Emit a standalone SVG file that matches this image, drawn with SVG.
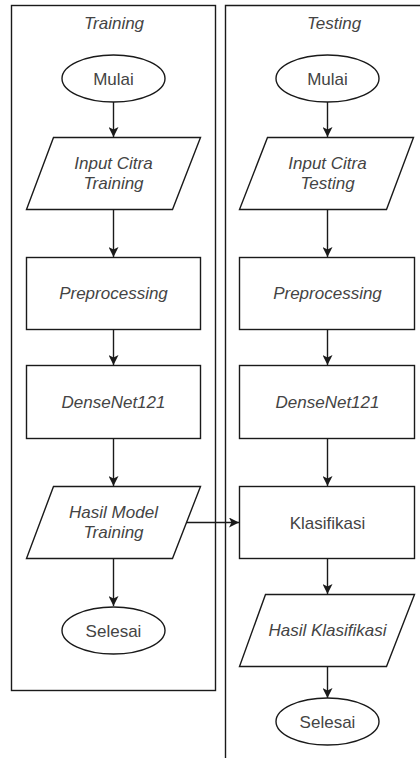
<svg xmlns="http://www.w3.org/2000/svg" width="420" height="758" viewBox="0 0 420 758">
<style>
.sh{fill:#fff;stroke:#1a1a1a;stroke-width:1.4}
.t{font-family:"Liberation Sans",Arial,sans-serif;font-size:17px;fill:#444;text-anchor:middle}
.i{font-style:italic}
.c{fill:none;stroke:#1a1a1a;stroke-width:1.4}
</style>
<defs>
<marker id="ah" viewBox="0 0 10 10" refX="10" refY="5" markerWidth="10" markerHeight="10" markerUnits="userSpaceOnUse" orient="auto">
<path d="M0,0 L10,5 L0,10 L2.5,5 Z" fill="#1a1a1a"/>
</marker>
</defs>
<rect width="420" height="758" fill="#fff"/>
<g id="lane-training">
<rect x="11.5" y="5.5" width="204" height="685" fill="none" stroke="#1a1a1a" stroke-width="1.4"/>
<text class="t i" x="114" y="29">Training</text>
</g>
<g id="lane-testing">
<path d="M420,5.5 H225.5 V758" fill="none" stroke="#1a1a1a" stroke-width="1.4"/>
<text class="t i" x="334" y="29">Testing</text>
</g>
<g id="connectors">
<path class="c" d="M113.5,102 V137" marker-end="url(#ah)"/>
<path class="c" d="M113.5,209 V257" marker-end="url(#ah)"/>
<path class="c" d="M113.5,329 V365" marker-end="url(#ah)"/>
<path class="c" d="M113.5,438 V486" marker-end="url(#ah)"/>
<path class="c" d="M113.5,558 V606" marker-end="url(#ah)"/>
<path class="c" d="M327.5,102 V137" marker-end="url(#ah)"/>
<path class="c" d="M327.5,209 V257" marker-end="url(#ah)"/>
<path class="c" d="M327.5,329 V365" marker-end="url(#ah)"/>
<path class="c" d="M327.5,438 V486" marker-end="url(#ah)"/>
<path class="c" d="M327.5,558 V594" marker-end="url(#ah)"/>
<path class="c" d="M327.5,666 V698" marker-end="url(#ah)"/>
<path class="c" d="M186,522.5 H239" marker-end="url(#ah)"/>
</g>
<g id="tr-mulai">
<ellipse class="sh" cx="113.5" cy="78.5" rx="51.5" ry="23.5"/>
<text class="t" x="113.5" y="84.5">Mulai</text>
</g>
<g id="tr-input">
<polygon class="sh" points="53.5,137.5 200.5,137.5 172.5,209.5 26.5,209.5"/>
<text class="t i" x="113.5" y="169">Input Citra</text>
<text class="t i" x="113.5" y="189">Training</text>
</g>
<g id="tr-pre">
<rect class="sh" x="26.5" y="257.5" width="174" height="72"/>
<text class="t i" x="113.5" y="299">Preprocessing</text>
</g>
<g id="tr-dense">
<rect class="sh" x="26.5" y="365.5" width="174" height="73"/>
<text class="t i" x="113.5" y="408">DenseNet121</text>
</g>
<g id="tr-hasil">
<polygon class="sh" points="53.5,486.5 200.5,486.5 172.5,558.5 26.5,558.5"/>
<text class="t i" x="113.5" y="518">Hasil Model</text>
<text class="t i" x="113.5" y="538">Training</text>
</g>
<g id="tr-selesai">
<ellipse class="sh" cx="113.5" cy="630.5" rx="51.5" ry="23.5"/>
<text class="t" x="113.5" y="636.5">Selesai</text>
</g>
<g id="ts-mulai">
<ellipse class="sh" cx="327.5" cy="78.5" rx="51.5" ry="23.5"/>
<text class="t" x="327.5" y="84.5">Mulai</text>
</g>
<g id="ts-input">
<polygon class="sh" points="267.5,137.5 413.5,137.5 386.5,209.5 239.5,209.5"/>
<text class="t i" x="327.5" y="169">Input Citra</text>
<text class="t i" x="327.5" y="189">Testing</text>
</g>
<g id="ts-pre">
<rect class="sh" x="239.5" y="257.5" width="175" height="72"/>
<text class="t i" x="327.5" y="299">Preprocessing</text>
</g>
<g id="ts-dense">
<rect class="sh" x="239.5" y="365.5" width="175" height="73"/>
<text class="t i" x="327.5" y="408">DenseNet121</text>
</g>
<g id="ts-klas">
<rect class="sh" x="239.5" y="486.5" width="175" height="72"/>
<text class="t" x="327.5" y="528.5">Klasifikasi</text>
</g>
<g id="ts-hasil">
<polygon class="sh" points="265.5,594.5 414.5,594.5 386.5,666.5 239.5,666.5"/>
<text class="t i" x="327.5" y="636">Hasil Klasifikasi</text>
</g>
<g id="ts-selesai">
<ellipse class="sh" cx="327.5" cy="721.5" rx="51.5" ry="23.5"/>
<text class="t" x="327.5" y="727.5">Selesai</text>
</g>
</svg>
